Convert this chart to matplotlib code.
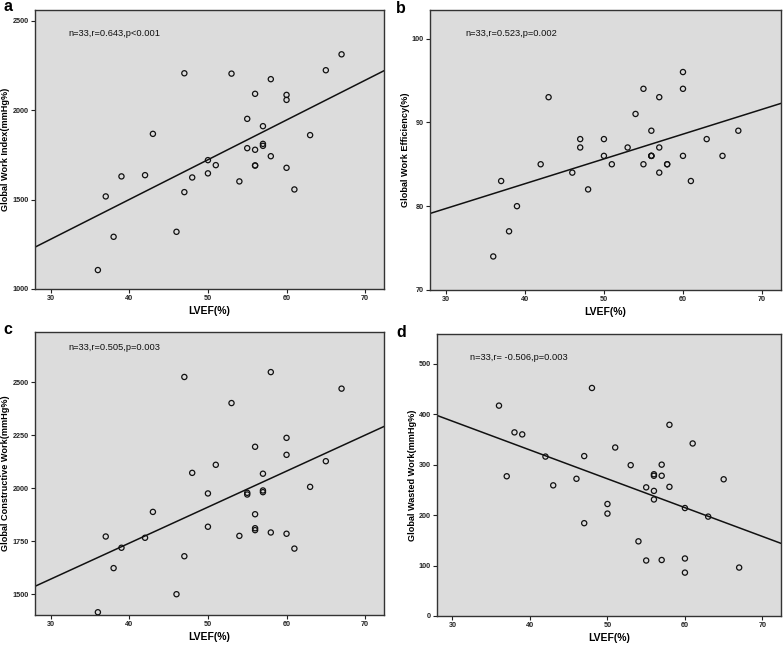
import numpy as np
import matplotlib
matplotlib.use("Agg")
import matplotlib.pyplot as plt

plt.rcParams['font.family'] = ['Liberation Sans', 'DejaVu Sans']

# LVEF values per panel
lvef_a = [36, 37, 38, 39, 42, 43, 46, 47, 47, 48, 50, 50, 51, 53, 54, 55, 55,
          56, 56, 56, 56, 57, 57, 57, 58, 58, 60, 60, 60, 61, 63, 65, 67]
gwi = [1106, 1518, 1292, 1630, 1637, 1868, 1320, 2207, 1542, 1624, 1721, 1647, 1693,
       2205, 1602, 1952, 1788, 2092, 1779, 1691, 1691, 1911, 1812, 1801, 2174, 1743,
       2086, 2058, 1678, 1557, 1861, 2224, 2313]

lvef_b = [36, 37, 38, 39, 42, 43, 46, 47, 47, 48, 50, 50, 51, 53, 54, 55, 55,
          56, 56, 56, 56, 57, 57, 57, 58, 58, 60, 60, 60, 61, 63, 65, 67]
gwe = [74, 83, 77, 80, 85, 93, 84, 88, 87, 82, 88, 86, 85, 87, 91, 94, 85,
       89, 86, 86, 86, 93, 87, 84, 85, 85, 96, 94, 86, 83, 88, 86, 89]

lvef_c = [36, 37, 38, 39, 42, 43, 46, 47, 47, 48, 50, 50, 51, 53, 54, 55, 55,
          56, 56, 56, 56, 57, 57, 57, 58, 58, 60, 60, 60, 61, 63, 65, 67]
gcw = [1415, 1772, 1623, 1719, 1766, 1888, 1500, 2524, 1679, 2072, 1975, 1818, 2110,
       2401, 1775, 1978, 1970, 2195, 1877, 1811, 1802, 2068, 1989, 1981, 2547, 1791,
       2237, 2157, 1785, 1715, 2006, 2127, 2469]

lvef_d = [36, 37, 38, 39, 42, 43, 46, 47, 47, 48, 50, 50, 51, 53, 54, 55, 55,
          56, 56, 56, 56, 57, 57, 57, 58, 58, 60, 60, 60, 61, 63, 65, 67]
gww = [417, 277, 364, 360, 316, 259, 272, 317, 184, 452, 222, 203, 334, 299, 148,
       255, 110, 281, 278, 248, 231, 300, 278, 111, 379, 256, 214, 114, 86, 342, 197,
       271, 96]

xticks = [30, 40, 50, 60, 70]

panels = [
    dict(lab='a', x=lvef_a, y=gwi, ylabel='Global Work Index(mmHg%)',
         ylim=(1000, 2561), yticks=[1000, 1500, 2000, 2500],
         text='n=33,r=0.643,p<0.001', rect=(35, 10, 384, 289), tpos=(68, 33), lpos=(3, 11)),
    dict(lab='b', x=lvef_b, y=gwe, ylabel='Global Work Efficiency(%)',
         ylim=(70, 103.4), yticks=[70, 80, 90, 100],
         text='n=33,r=0.523,p=0.002', rect=(430, 10, 781, 290), tpos=(465, 33), lpos=(396, 13)),
    dict(lab='c', x=lvef_c, y=gcw, ylabel='Global Constructive Work(mmHg%)',
         ylim=(1402, 2736), yticks=[1500, 1750, 2000, 2250, 2500],
         text='n=33,r=0.505,p=0.003', rect=(35, 332, 384, 615), tpos=(68, 347), lpos=(3, 334)),
    dict(lab='d', x=lvef_d, y=gww, ylabel='Global Wasted Work(mmHg%)',
         ylim=(0, 559), yticks=[0, 100, 200, 300, 400, 500],
         text='n=33,r= -0.506,p=0.003', rect=(437, 334, 781, 616), tpos=(470, 357), lpos=(396, 337)),
]

W, H = 783, 645
fig = plt.figure(figsize=(W / 100, H / 100), dpi=100)
xlim = (28, 72.4)

for p in panels:
    l, t, r, b = p['rect']
    ax = fig.add_axes([l / W, 1 - b / H, (r - l) / W, (b - t) / H])
    ax.set_facecolor('#dcdcdc')
    ax.scatter(p['x'], p['y'], s=14, facecolors='none', edgecolors='#111111', linewidths=0.9, zorder=3)
    k, c0 = np.polyfit(p['x'], p['y'], 1)
    xs = np.array(xlim)
    ax.plot(xs, k * xs + c0, color='#111111', lw=1.1, zorder=2)
    ax.set_xlim(*xlim)
    ax.set_ylim(*p['ylim'])
    ax.set_xticks(xticks)
    ax.set_yticks(p['yticks'])
    ax.tick_params(direction='out', length=3, width=0.8, labelsize=5.2, pad=1.5, colors='#222222')
    for lbl in ax.get_xticklabels() + ax.get_yticklabels():
        lbl.set_fontweight('bold')
    for s in ax.spines.values():
        s.set_color('#333333')
        s.set_linewidth(1.0)
    ax.set_xlabel('LVEF(%)', fontsize=7.5, fontweight='bold', labelpad=3)
    ax.set_ylabel(p['ylabel'], fontsize=6.6, fontweight='bold', labelpad=1.5)
    fig.text(p['tpos'][0] / W, 1 - p['tpos'][1] / H, p['text'], fontsize=6.7, va='center', ha='left', color='#111111')
    fig.text(p['lpos'][0] / W, 1 - p['lpos'][1] / H, p['lab'], fontsize=11.5, fontweight='bold', va='baseline', ha='left')

fig.savefig('out.png', dpi=100, facecolor='white')
